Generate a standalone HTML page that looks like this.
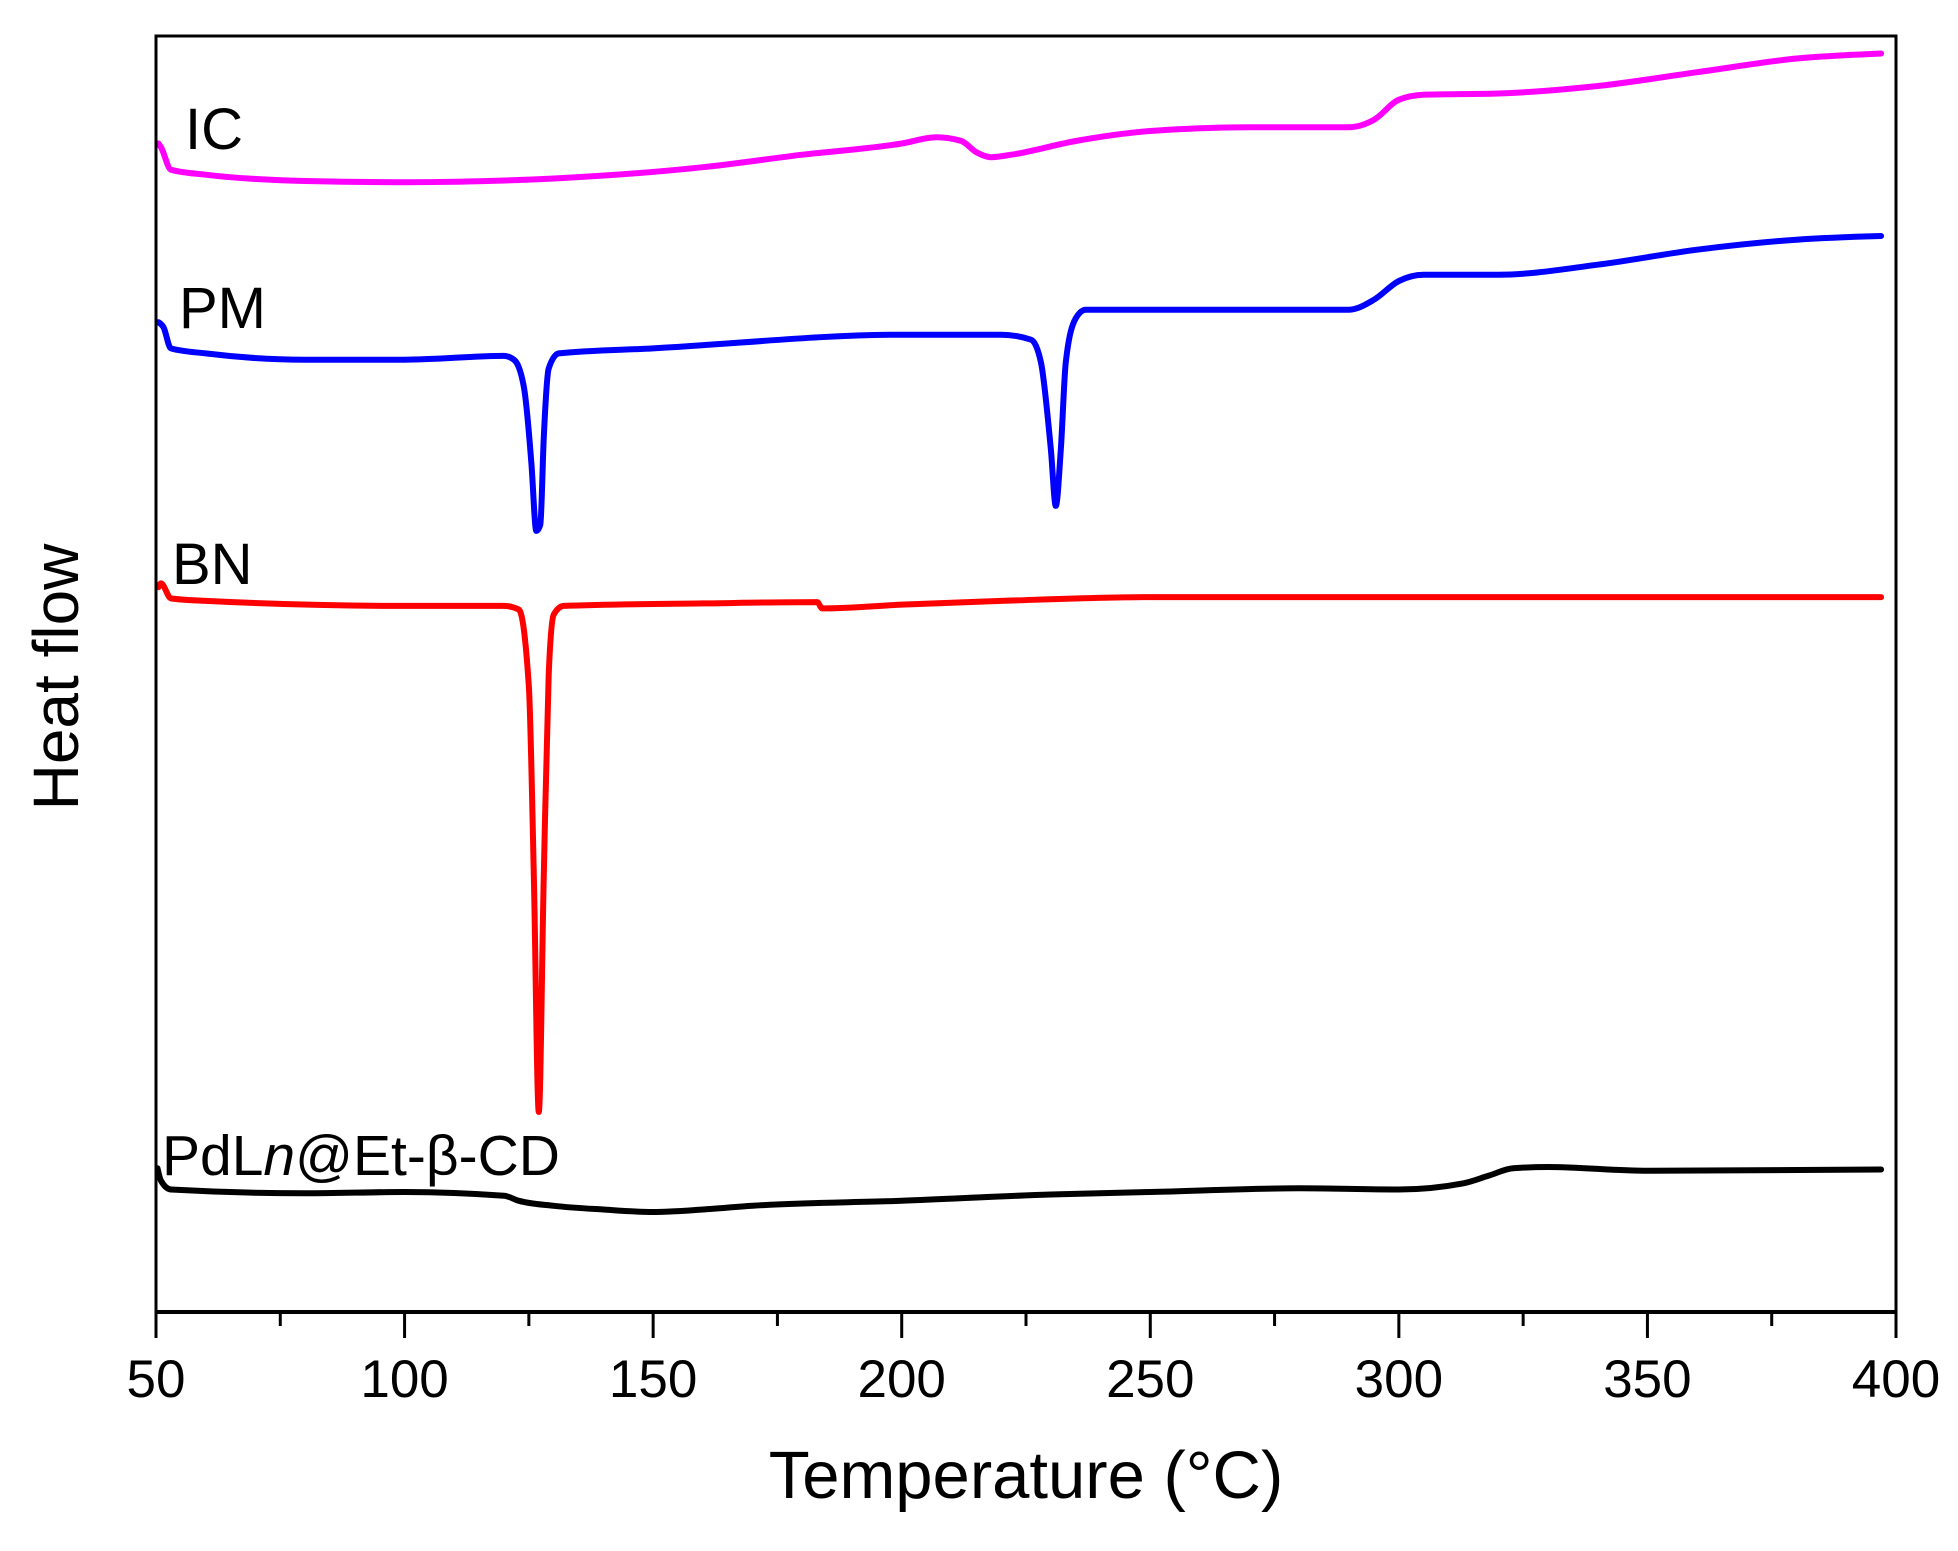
<!DOCTYPE html>
<html><head><meta charset="utf-8"><style>
html,body{margin:0;padding:0;background:#fff}
svg{display:block;font-family:"Liberation Sans",Arial,sans-serif}
</style></head><body>
<svg id="chart" width="1958" height="1551" viewBox="0 0 1958 1551" xmlns="http://www.w3.org/2000/svg">
<rect width="1958" height="1551" fill="#fff"/>
<g id="series"></g>
<rect x="156" y="36" width="1740" height="1276" fill="none" stroke="#000" stroke-width="3"/>
<line x1="156" y1="1312" x2="1896" y2="1312" stroke="#000" stroke-width="4"/>
<g id="ticks"></g>
<text x="1026" y="1498" font-size="67" text-anchor="middle">Temperature (°C)</text>
<text transform="translate(78,677) rotate(-90)" font-size="64" text-anchor="middle">Heat flow</text>
<text x="185" y="149" font-size="58">IC</text>
<text x="179" y="328" font-size="58">PM</text>
<text x="172" y="584" font-size="58">BN</text>
<text x="162" y="1175" font-size="57">PdL<tspan font-style="italic">n</tspan>@Et-β-CD</text>
</svg>
<script>
// temperatures (°C) and heat flow (arbitrary units, offset per curve)
const icT = [50.5,51,53,60,80,100,130,160,180,200,207,212,215,218,222,235,250,270,290,295,300,305,320,340,360,380,397];
const icY = [935,932,914,910,905,904,907,916,926,935,940,937,928,924,926,937,945,948,948,954,970,974,975,981,992,1003,1007];
const pmT = [50.5,51.5,53,60,80,100,120,122,124,125.5,126.5,127.3,128,129,131,150,200,220,226,228,230,231,232,233,235,237,260,275,290,295,300,305,320,340,360,380,397];
const pmY = [792,788,771,767,762,762,765,762,740,680,625,630,700,755,767,771,782,782,778,760,690,645,690,760,795,802,802,802,802,810,825,830,830,838,850,858,861];
const bnT = [50.5,51,53,60,100,120,123,125,126,127,128,129,130,132,160,183,184,200,220,250,300,397];
const bnY = [580,583,571,569,565,565,562,500,350,160,350,510,558,565,567,568,563,566,569,572,572,572];
const cdT = [50.3,51,53,80,100,120,123,130,140,150,160,170,200,230,250,280,300,313,318,323,330,350,397];
const cdY = [115,105,98,95,96,93,89,85,82,80,82,85,89,94,96,99,98,103,109,115,116,113,114];
const xTicks = [50,100,150,200,250,300,350,400];
const xMinor = [75,125,175,225,275,325,375];

const X0=156,X1=1896,Y0=1312,Y1=36;
function xs(t){return X0+(t-50)/(400-50)*(X1-X0);}
function ys(v){return Y0-(v-0)/(1021-0)*(Y0-Y1);}
const NS="http://www.w3.org/2000/svg";
const sg=document.getElementById('series');
function sgn(v){return v<0?-1:v>0?1:0;}
function pathD(P){
  const n=P.length, h=[], s=[], t=new Array(n).fill(0);
  for(let i=0;i<n-1;i++){h[i]=P[i+1][0]-P[i][0];s[i]=(P[i+1][1]-P[i][1])/h[i];}
  for(let i=1;i<n-1;i++){
    const p=(s[i-1]*h[i]+s[i]*h[i-1])/(h[i-1]+h[i]);
    t[i]=(sgn(s[i-1])+sgn(s[i]))*Math.min(Math.abs(s[i-1]),Math.abs(s[i]),0.5*Math.abs(p))||0;
  }
  t[0]=n>2?(3*s[0]-t[1])/2:s[0];
  t[n-1]=n>2?(3*s[n-2]-t[n-2])/2:s[n-2];
  let d='M'+P[0][0].toFixed(1)+','+P[0][1].toFixed(1);
  for(let i=0;i<n-1;i++){
    const dx=h[i]/3;
    d+=' C'+(P[i][0]+dx).toFixed(1)+','+(P[i][1]+dx*t[i]).toFixed(1)+' '+(P[i+1][0]-dx).toFixed(1)+','+(P[i+1][1]-dx*t[i+1]).toFixed(1)+' '+P[i+1][0].toFixed(1)+','+P[i+1][1].toFixed(1);
  }
  return d;
}
function draw(T,Y,color,name){
  const p=document.createElementNS(NS,'path');
  p.setAttribute('d',pathD(T.map((t,i)=>[xs(t),ys(Y[i])])));
  p.setAttribute('fill','none');p.setAttribute('stroke',color);
  p.setAttribute('stroke-width','6');p.setAttribute('stroke-linejoin','round');p.setAttribute('stroke-linecap','round');
  
  
  sg.appendChild(p);
}
draw(icT,icY,'#ff00ff','ic-curve');
draw(pmT,pmY,'#0000ff','pm-curve');
draw(bnT,bnY,'#ff0000','bn-curve');
draw(cdT,cdY,'#000000','pdln-curve');
const tg=document.getElementById('ticks');
xTicks.forEach(t=>{
  const l=document.createElementNS(NS,'line');
  l.setAttribute('x1',xs(t));l.setAttribute('x2',xs(t));l.setAttribute('y1',1312);l.setAttribute('y2',1338);
  l.setAttribute('stroke','#000');l.setAttribute('stroke-width','3');
  
  
  tg.appendChild(l);
  const tx=document.createElementNS(NS,'text');
  tx.setAttribute('x',xs(t));tx.setAttribute('y',1397);tx.setAttribute('font-size','53');tx.setAttribute('text-anchor','middle');
  tx.textContent=t;
  
  
  tg.appendChild(tx);
});
xMinor.forEach(t=>{
  const l=document.createElementNS(NS,'line');
  l.setAttribute('x1',xs(t));l.setAttribute('x2',xs(t));l.setAttribute('y1',1312);l.setAttribute('y2',1326);
  l.setAttribute('stroke','#000');l.setAttribute('stroke-width','3');
  
  
  tg.appendChild(l);
});
</script>
</body></html>
